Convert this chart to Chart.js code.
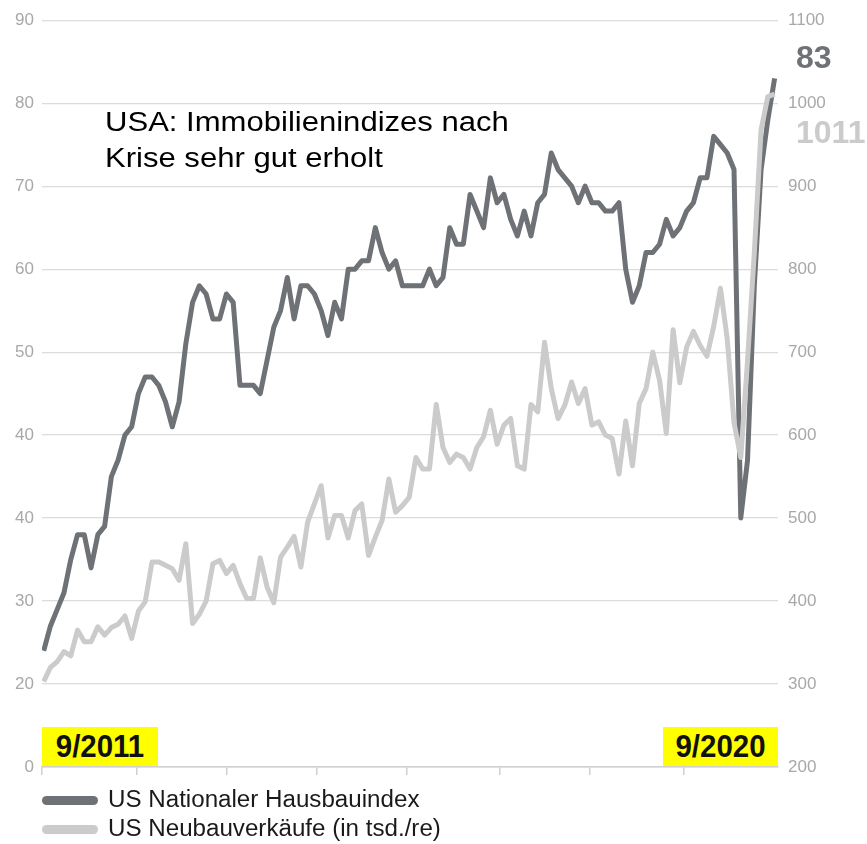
<!DOCTYPE html>
<html>
<head>
<meta charset="utf-8">
<script src="https://cdn.jsdelivr.net/npm/chart.js@4/dist/chart.umd.min.js"></script>
<style>
  html, body { margin: 0; padding: 0; background: #fff; }
  #wrap { position: relative; width: 867px; height: 844px; font-family: "Liberation Sans", Arial, Helvetica, sans-serif; }
  #chart { position: absolute; left: 0; top: 0; }
  .title { position: absolute; left: 105px; font-size: 27px; line-height: 27px; color: #000; white-space: nowrap; transform: scaleX(1.15); transform-origin: 0 0; }
  .tag { position: absolute; top: 727px; height: 39px; background: #ffff00; }
  .tag span { position: absolute; left: 0; top: 0; width: 100%; color: #111; font-weight: bold; font-size: 32px; line-height: 39px; text-align: center; transform: scaleX(0.92); }
  .leg { position: absolute; left: 42px; height: 23px; white-space: nowrap; }
  .leg .sw { position: absolute; left: 0; top: 8px; width: 56px; height: 9px; border-radius: 5px; }
  .leg .tx { position: absolute; left: 66px; top: 0; font-size: 23px; line-height: 23px; color: #1a1a1a; transform: scaleX(1.05); transform-origin: 0 0; }
</style>
</head>
<body>
<div id="wrap">
  <canvas id="chart" width="867" height="844"></canvas>
  <div class="title" style="top:109px">USA: Immobilienindizes nach</div>
  <div class="title" style="top:145px">Krise sehr gut erholt</div>
  <div class="tag" style="left:42px;width:116px"><span>9/2011</span></div>
  <div class="tag" style="left:663px;width:115px"><span>9/2020</span></div>
  <div class="leg" style="top:788px"><span class="sw" style="background:#6e7276"></span><span class="tx">US Nationaler Hausbauindex</span></div>
  <div class="leg" style="top:817px"><span class="sw" style="background:#cbcbcb"></span><span class="tx">US Neubauverkäufe (in tsd./re)</span></div>
</div>
<script>
// monthly, 9/2011 .. 9/2020
const months = [];
for (let y = 2011, m = 9; y < 2020 || (y === 2020 && m <= 9); m++) {
  if (m > 12) { m = 1; y++; }
  months.push(m + "/" + y);
}

// US Nationaler Hausbauindex (left axis)
const hausbauindex = [
  14, 17, 19, 21,
  25, 28, 28, 24, 28, 29, 35, 37, 40, 41, 45, 47,
  47, 46, 44, 41, 44, 51, 56, 58, 57, 54, 54, 57,
  56, 46, 46, 46, 45, 49, 53, 55, 59, 54, 58, 58,
  57, 55, 52, 56, 54, 60, 60, 61, 61, 65, 62, 60,
  61, 58, 58, 58, 58, 60, 58, 59, 65, 63, 63, 69,
  67, 65, 71, 68, 69, 66, 64, 67, 64, 68, 69, 74,
  72, 71, 70, 68, 70, 68, 68, 67, 67, 68, 60, 56,
  58, 62, 62, 63, 66, 64, 65, 67, 68, 71, 71, 76,
  75, 74, 72, 30, 37, 58, 72, 78, 83
];

// US Neubauverkaeufe in tsd. (right axis)
const neubauverkaeufe = [
  303, 320, 327, 339,
  334, 365, 351, 351, 369, 359, 368, 372, 382, 355, 388, 399,
  447, 447, 443, 439, 425, 469, 373, 384, 400, 445, 449, 433,
  443, 421, 403, 403, 452, 417, 398, 453, 465, 478, 441, 495,
  517, 539, 476, 503, 503, 476, 509, 517, 455, 477, 497, 547,
  507, 515, 525, 573, 559, 559, 637, 585, 567, 577, 573, 559,
  585, 598, 630, 589, 612, 620, 563, 559, 637, 628, 712, 656,
  620, 636, 664, 638, 656, 612, 616, 600, 596, 553, 617, 563,
  638, 656, 700, 666, 602, 727, 663, 706, 725, 708, 695, 731,
  777, 716, 615, 573, 690, 820, 968, 1008, 1011
];

// tick labels as printed in the original (left axis, bottom to top)
const leftTickLabels = ["0", "20", "30", "40", "40", "50", "60", "70", "80", "90"];
const rightTickLabels = ["200", "300", "400", "500", "600", "700", "800", "900", "1000", "1100"];
const xTickMarks = [-0.25, 13.8, 27.1, 40.4, 53.7, 67.4, 80.7, 94.6];

const DARK = "#6e7276";
const LIGHT = "#cbcbcb";
const TICK = "#a8a8a8";
const FONT = '"Liberation Sans", Arial, Helvetica, sans-serif';

// last value printed to the right of the plot
const endLabels = {
  id: "endLabels",
  afterDatasetsDraw(chart) {
    const ctx = chart.ctx;
    const x = chart.chartArea.right + 18;
    chart.data.datasets.forEach((ds, i) => {
      const meta = chart.getDatasetMeta(i);
      const pt = meta.data[meta.data.length - 1];
      const val = ds.data[ds.data.length - 1].y;
      ctx.save();
      ctx.font = "bold 32px " + FONT;
      ctx.fillStyle = ds.borderColor;
      ctx.textBaseline = "alphabetic";
      ctx.fillText(String(val), x, pt.y + ds.endOffset);
      ctx.restore();
    });
  }
};

new Chart(document.getElementById("chart"), {
  type: "line",
  data: {
    labels: months,
    datasets: [
      {
        label: "US Nationaler Hausbauindex",
        data: hausbauindex.map((v, i) => ({ x: i, y: v })),
        yAxisID: "y",
        borderColor: DARK,
        borderWidth: 5,
        pointRadius: 0,
        borderJoinStyle: "round",
        order: 1,
        endOffset: -10
      },
      {
        label: "US Neubauverkäufe (in tsd./re)",
        data: neubauverkaeufe.map((v, i) => ({ x: i, y: v })),
        yAxisID: "y1",
        borderColor: LIGHT,
        borderWidth: 5,
        pointRadius: 0,
        borderJoinStyle: "round",
        order: 0,
        endOffset: 49
      }
    ]
  },
  options: {
    responsive: false,
    animation: false,
    layout: { padding: { top: 19, left: 0, right: 0, bottom: 0 } },
    plugins: { legend: { display: false }, tooltip: { enabled: false } },
    scales: {
      x: {
        type: "linear",
        min: -0.25,
        max: 108.5,
        afterBuildTicks: (axis) => { axis.ticks = xTickMarks.map((v) => ({ value: v })); },
        afterFit: (axis) => { axis.height = 77; },
        ticks: { display: false },
        grid: { display: true, drawOnChartArea: false, drawTicks: true, tickLength: 8, color: "#d0d0d0", lineWidth: 1.5 },
        border: { display: true, color: "#d0d0d0", width: 1.5 }
      },
      y: {
        position: "left",
        min: 0,
        max: 90,
        ticks: {
          stepSize: 10,
          padding: 8,
          color: TICK,
          font: { family: FONT, size: 17 },
          callback: (v, i) => leftTickLabels[i]
        },
        afterFit: (axis) => { axis.width = 42; },
        grid: { color: "#dcdcdc", lineWidth: 1.2, drawTicks: false },
        border: { display: false }
      },
      y1: {
        position: "right",
        min: 200,
        max: 1100,
        ticks: {
          stepSize: 100,
          padding: 10,
          color: TICK,
          font: { family: FONT, size: 17 },
          callback: (v, i) => rightTickLabels[i]
        },
        afterFit: (axis) => { axis.width = 89; },
        grid: { display: false, drawTicks: false },
        border: { display: false }
      }
    }
  },
  plugins: [endLabels]
});
</script>
</body>
</html>
